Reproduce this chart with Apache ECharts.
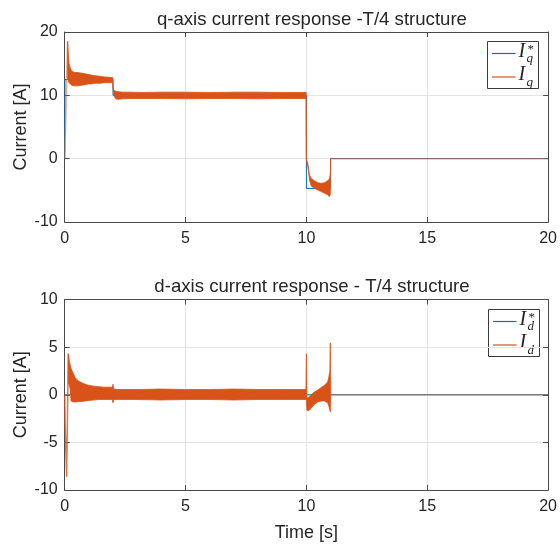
<!DOCTYPE html>
<html>
<head>
<meta charset="utf-8">
<script src="https://cdn.jsdelivr.net/npm/echarts@6/dist/echarts.min.js"></script>
<style>
  html, body { margin: 0; padding: 0; background: #fff; }
  #chart { width: 560px; height: 545px; }
</style>
</head>
<body>
<div id="chart"></div>
<script>
// ---- q-axis: reference current (step profile) ----
const qRefTime = [0, 0.01, 0.01, 2, 2, 10, 10, 11, 11, 20];
const qRefValue = [0, 0, 12.5, 12.5, 10, 10, -4.7, -4.7, 0, 0];

// ---- q-axis: measured current, start-up rise ----
const qStartTime = [0, 0.03, 0.12];
const qStartValue = [0, 0, 18.5];

// ---- q-axis: measured current, ripple envelope (upper / lower) ----
const qBandTime = [0.12, 0.15, 0.18, 0.23, 0.29, 0.36, 0.43, 0.55, 0.7, 0.85, 0.97, 1.1, 1.25, 1.45, 1.66, 1.85, 1.99,
  2.0, 2.03, 2.08, 2.15, 2.25, 2.4, 2.7, 3.2, 4, 5, 6, 7, 8, 9, 9.99,
  10.0, 10.06, 10.13, 10.2, 10.33, 10.47, 10.61, 10.75, 10.88, 10.95, 10.99, 11.0];
const qBandUpper = [18.5, 16.5, 15.0, 14.3, 13.8, 13.7, 13.6, 13.6, 13.5, 13.4, 13.3, 13.2, 13.1, 13.0, 12.9, 12.85, 12.8,
  11.2, 10.9, 10.7, 10.6, 10.55, 10.5, 10.5, 10.45, 10.5, 10.5, 10.45, 10.5, 10.5, 10.45, 10.45,
  0.0, -0.8, -2.6, -3.1, -3.5, -3.8, -3.9, -3.8, -3.5, -3.2, -2.5, 0];
const qBandLower = [12.5, 12.3, 12.0, 11.8, 11.6, 11.5, 11.5, 11.5, 11.6, 11.7, 11.8, 11.8, 11.9, 11.9, 12.0, 12.0, 12.0,
  10.8, 10.1, 9.6, 9.4, 9.4, 9.45, 9.5, 9.5, 9.5, 9.45, 9.5, 9.5, 9.45, 9.5, 9.5,
  -0.2, -1.3, -3.4, -4.3, -4.7, -4.95, -5.2, -5.45, -5.7, -6.0, -5.6, 0];

// ---- q-axis: measured current after the reference returns to zero ----
const qTailTime = [11, 20];
const qTailValue = [0, 0];

// ---- d-axis: reference current ----
const dRefTime = [0, 20];
const dRefValue = [0, 0];

// ---- d-axis: measured current, start-up transient ----
const dStartTime = [0, 0.02, 0.05, 0.08, 0.15];
const dStartValue = [0, -3.5, -6.0, -8.6, 4.3];

// ---- d-axis: measured current, ripple envelope (upper / lower) ----
const dBandTime = [0.15, 0.17, 0.19, 0.23, 0.26, 0.29, 0.36, 0.43, 0.5, 0.57, 0.71, 0.85, 0.98, 1.2, 1.39, 1.6, 1.8, 1.97,
  2.0, 2.02, 2.05, 2.2, 3, 4, 5, 6, 7, 8, 9, 9.98,
  10.0, 10.02, 10.06, 10.13, 10.2, 10.33, 10.47, 10.61, 10.75, 10.88, 10.93, 10.97, 10.99, 11.0];
const dBandUpper = [4.3, 4.0, 3.6, 3.1, 2.8, 2.6, 2.2, 1.8, 1.6, 1.45, 1.25, 1.1, 1.0, 0.9, 0.85, 0.8, 0.8, 0.8,
  1.1, 0.7, 0.6, 0.55, 0.55, 0.6, 0.55, 0.55, 0.6, 0.55, 0.55, 0.55,
  4.3, -0.3, -0.3, -0.2, 0.0, 0.3, 0.5, 0.75, 1.0, 1.35, 1.9, 2.5, 5.45, 0];
const dBandLower = [1.2, 1.2, 1.0, 0.6, -0.6, -0.7, -0.75, -0.75, -0.75, -0.7, -0.7, -0.65, -0.6, -0.55, -0.5, -0.5, -0.5, -0.5,
  -0.85, -0.6, -0.5, -0.5, -0.5, -0.55, -0.5, -0.5, -0.55, -0.5, -0.5, -0.5,
  -0.5, -1.6, -1.7, -1.6, -1.4, -1.0, -0.75, -0.65, -0.65, -0.85, -1.2, -1.6, -1.8, 0];

// ---- d-axis: measured current after t = 11 s ----
const dTailTime = [11, 20];
const dTailValue = [0, 0];

// ---- axis ticks ----
const timeTicks = { min: 0, max: 20, interval: 5 };
const qTicks = { min: -10, max: 20, interval: 10 };
const dTicks = { min: -10, max: 10, interval: 5 };

const BLUE = '#0072BD';
const ORANGE = '#D95319';
const AXIS = '#4a4a4a';
const TEXT = '#262626';
const GRID = '#e4e4e4';
const SANS = '"Liberation Sans", Arial, Helvetica, sans-serif';
const SERIF = '"Liberation Serif", "DejaVu Serif", serif';

const zip = (xs, ys) => xs.map((x, i) => [x, ys[i]]);

// Filled ripple band between upper and lower envelopes
function bandRenderer(T, HI, LO, color) {
  return function (params, api) {
    if (params.dataIndex !== 0) return null;
    const pts = [];
    for (let i = 0; i < T.length; i++) pts.push(api.coord([T[i], HI[i]]));
    for (let i = T.length - 1; i >= 0; i--) pts.push(api.coord([T[i], LO[i]]));
    return {
      type: 'polygon',
      shape: { points: pts },
      style: { fill: color, stroke: color, lineWidth: 0.8 }
    };
  };
}

const L = 64.7, W = 484.5;
const grids = [
  { left: L, top: 32, width: W, height: 190 },
  { left: L, top: 299.5, width: W, height: 190.5 }
];

function xAxisPair(gi, withLabelName) {
  const common = {
    gridIndex: gi, type: 'value', min: timeTicks.min, max: timeTicks.max, interval: timeTicks.interval,
    axisLine: { show: true, onZero: false, lineStyle: { color: AXIS, width: 1 } },
    axisTick: { show: true, inside: true, length: 5, lineStyle: { color: AXIS, width: 1 } }
  };
  const main = Object.assign({}, common, {
    position: 'bottom',
    axisLabel: { color: TEXT, fontSize: 16, fontFamily: SANS, margin: 9 },
    splitLine: { show: true, lineStyle: { color: GRID, width: 1 } }
  });
  if (withLabelName) {
    Object.assign(main, {
      name: 'Time [s]', nameLocation: 'middle', nameGap: 34,
      nameTextStyle: { color: TEXT, fontSize: 18, fontFamily: SANS }
    });
  }
  const mirror = Object.assign({}, common, {
    position: 'top', axisLabel: { show: false }, splitLine: { show: false }
  });
  return [main, mirror];
}

function yAxisPair(gi, ticks) {
  const common = {
    gridIndex: gi, type: 'value', min: ticks.min, max: ticks.max, interval: ticks.interval,
    axisLine: { show: true, onZero: false, lineStyle: { color: AXIS, width: 1 } },
    axisTick: { show: true, inside: true, length: 5, lineStyle: { color: AXIS, width: 1 } }
  };
  const main = Object.assign({}, common, {
    position: 'left',
    name: 'Current [A]', nameLocation: 'middle', nameGap: 35, nameMoveOverlap: false,
    nameTextStyle: { color: TEXT, fontSize: 18, fontFamily: SANS },
    axisLabel: { color: TEXT, fontSize: 16, fontFamily: SANS, margin: 7 },
    splitLine: { show: true, lineStyle: { color: GRID, width: 1 } }
  });
  const mirror = Object.assign({}, common, {
    position: 'right', axisLabel: { show: false }, splitLine: { show: false }
  });
  return [main, mirror];
}

function lineSeries(xi, yi, data, color, width, opacity, z) {
  return {
    type: 'line', xAxisIndex: xi, yAxisIndex: yi, data: data,
    symbol: 'none', silent: true, animation: false, z: z,
    lineStyle: { color: color, width: width, opacity: opacity },
    itemStyle: { color: color }
  };
}

function bandSeries(xi, yi, T, HI, LO) {
  return {
    type: 'custom', xAxisIndex: xi, yAxisIndex: yi, clip: true, silent: true, animation: false, z: 3,
    data: T.map((t, i) => [t, HI[i], LO[i]]),
    encode: { x: 0, y: [1, 2] },
    renderItem: bandRenderer(T, HI, LO, ORANGE)
  };
}

// Legend box drawn in the upper-right corner of each panel
function legendBox(x, y, sub) {
  const w = 51, h = 47;
  return {
    type: 'group', x: x, y: y, z: 100,
    children: [
      { type: 'rect', shape: { x: 0, y: 0, width: w, height: h }, style: { fill: '#fff', stroke: '#3a3a3a', lineWidth: 1 } },
      { type: 'line', shape: { x1: 4.5, y1: 12, x2: 28, y2: 12 }, style: { stroke: BLUE, lineWidth: 1.2 } },
      { type: 'line', shape: { x1: 4.5, y1: 35.5, x2: 28, y2: 35.5 }, style: { stroke: ORANGE, lineWidth: 1.2 } },
      { type: 'text', x: 31, y: 20, style: { text: 'I', font: 'italic 20px ' + SERIF, fill: TEXT, textVerticalAlign: 'bottom' } },
      { type: 'text', x: 39, y: 24, style: { text: sub, font: 'italic 13px ' + SERIF, fill: TEXT, textVerticalAlign: 'bottom' } },
      { type: 'text', x: 40, y: 2, style: { text: '*', font: '13px ' + SERIF, fill: TEXT, textVerticalAlign: 'top' } },
      { type: 'text', x: 31, y: 43.5, style: { text: 'I', font: 'italic 20px ' + SERIF, fill: TEXT, textVerticalAlign: 'bottom' } },
      { type: 'text', x: 39, y: 47.5, style: { text: sub, font: 'italic 13px ' + SERIF, fill: TEXT, textVerticalAlign: 'bottom' } }
    ]
  };
}

const xa0 = xAxisPair(0, false), xa1 = xAxisPair(1, true);
const ya0 = yAxisPair(0, qTicks), ya1 = yAxisPair(1, dTicks);

const option = {
  backgroundColor: '#fff',
  animation: false,
  title: [
    { text: 'q-axis current response -T/4 structure', left: L + W / 2, top: 5, textAlign: 'center',
      textStyle: { color: TEXT, fontSize: 18.6, fontWeight: 'normal', fontFamily: SANS } },
    { text: 'd-axis current response - T/4 structure', left: L + W / 2, top: 272, textAlign: 'center',
      textStyle: { color: TEXT, fontSize: 18.6, fontWeight: 'normal', fontFamily: SANS } }
  ],
  grid: grids,
  xAxis: [xa0[0], xa0[1], xa1[0], xa1[1]],
  yAxis: [ya0[0], ya0[1], ya1[0], ya1[1]],
  series: [
    // q-axis panel
    lineSeries(0, 0, zip(qRefTime, qRefValue), BLUE, 1, 1, 2),
    bandSeries(0, 0, qBandTime, qBandUpper, qBandLower),
    lineSeries(0, 0, zip(qStartTime, qStartValue), ORANGE, 1.5, 0.5, 3),
    lineSeries(0, 0, zip(qTailTime, qTailValue), ORANGE, 1, 0.65, 4),
    // d-axis panel
    lineSeries(2, 2, zip(dRefTime, dRefValue), BLUE, 1, 1, 2),
    bandSeries(2, 2, dBandTime, dBandUpper, dBandLower),
    lineSeries(2, 2, zip(dStartTime, dStartValue), ORANGE, 1.5, 0.8, 3),
    lineSeries(2, 2, zip(dTailTime, dTailValue), ORANGE, 1, 0.65, 4)
  ],
  graphic: [
    legendBox(487.5, 41.5, 'q'),
    legendBox(488.5, 309.5, 'd')
  ]
};

const chart = echarts.init(document.getElementById('chart'), null, { renderer: 'canvas' });
chart.setOption(option);
</script>
</body>
</html>
